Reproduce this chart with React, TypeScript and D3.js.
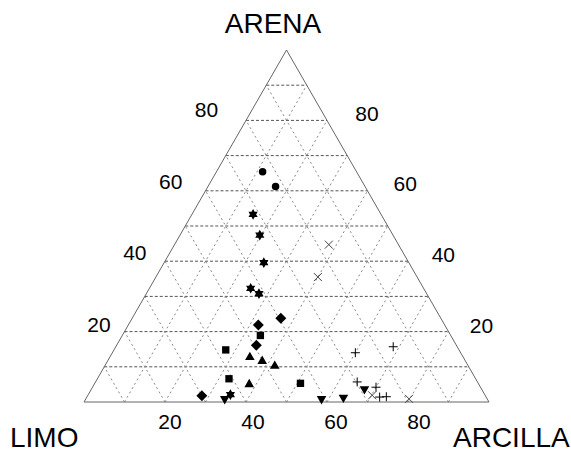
import React from 'react';
import * as d3 from 'd3';

// composition: [ARENA, LIMO, ARCILLA] in %
const circles = [[65.4, 23.2, 11.4], [61.2, 22.1, 16.7]];
const stars = [
  [53.3, 31.6, 15.1], [47.4, 32.9, 19.7], [39.6, 35.8, 24.6],
  [32.3, 42.7, 25.0], [30.8, 41.4, 27.8], [2.1, 62.8, 35.1],
];
const diamonds = [[23.8, 39.5, 36.7], [21.9, 46.0, 32.1], [16.1, 49.4, 34.5], [1.8, 70.0, 28.2]];
const squares = [[18.9, 47.0, 34.1], [14.8, 57.6, 27.6], [6.6, 60.9, 32.5], [5.3, 43.9, 50.8]];
const triUp = [[12.7, 52.7, 34.6], [11.6, 50.2, 38.2], [10.2, 47.8, 42.0], [5.0, 56.7, 38.3]];
const triDown = [[0.9, 64.8, 34.3], [0.9, 40.9, 58.2], [1.3, 35.3, 63.4], [3.7, 28.9, 67.4]];
const pluses = [
  [14.0, 26.0, 60.0], [15.7, 15.8, 68.5], [5.7, 29.7, 64.6],
  [4.2, 25.8, 70.0], [1.4, 26.3, 72.3], [1.5, 24.6, 73.9],
];
const crosses = [[44.7, 17.2, 38.1], [35.5, 24.5, 40.0], [1.9, 27.9, 70.2], [0.9, 19.3, 79.8]];

const tickValues = [20, 40, 60, 80];
const gridValues = d3.range(10, 100, 10);

const W = 571;
const H = 455;

const xScale = d3.scaleLinear().domain([0, 100]).range([84, 489]);
const yScale = d3.scaleLinear().domain([0, 100]).range([402, 50]);

// ARENA = a, ARCILLA = c
const proj = (a: number, c: number): [number, number] => [xScale(c + a / 2), yScale(a)];

// label placement scales (tick text sits a little off the edges)
const leftLabX = d3.scaleLinear().domain([20, 80]).range([99, 206.5]);
const leftLabY = d3.scaleLinear().domain([20, 80]).range([324, 109.5]);
const rightLabX = d3.scaleLinear().domain([20, 80]).range([481.5, 367]);
const rightLabY = d3.scaleLinear().domain([20, 80]).range([325, 113]);
const bottomLabX = d3.scaleLinear().domain([20, 80]).range([170, 419]);

const hexagram = {
  draw(ctx: any, size: number) {
    const r = Math.sqrt(size) * 0.75;
    for (const rot of [0, Math.PI]) {
      for (let k = 0; k < 3; k++) {
        const ang = rot - Math.PI / 2 + (k * 2 * Math.PI) / 3;
        const px = r * Math.cos(ang);
        const py = r * Math.sin(ang);
        if (k === 0) ctx.moveTo(px, py);
        else ctx.lineTo(px, py);
      }
      ctx.closePath();
    }
  },
};

const sym = (type: any, size: number) => d3.symbol().type(type).size(size)() as string;

const App = () => {
  const outline = d3.line()([proj(0, 0), proj(100, 0), proj(0, 100), proj(0, 0)]);

  const grid: [number, number][][] = [];
  gridValues.forEach((v) => {
    grid.push([proj(v, 0), proj(v, 100 - v)]); // const ARENA
    grid.push([proj(0, v), proj(100 - v, v)]); // const ARCILLA
    grid.push([proj(0, 100 - v), proj(100 - v, 0)]); // const LIMO
  });

  const filled = (data: number[][], path: string, rot = 0) =>
    data.map((d, i) => {
      const [x, y] = proj(d[0], d[2]);
      return (
        <path key={i} d={path} transform={`translate(${x},${y}) rotate(${rot})`} fill="#000" />
      );
    });

  const plusPath = 'M-4.5,0L4.5,0M0,-4.5L0,4.5';
  const xPath = 'M-4,-4L4,4M-4,4L4,-4';

  const font = 'Liberation Sans, Arial, sans-serif';

  return (
    <svg width={W} height={H} style={{ position: 'absolute', left: 0, top: 0, background: '#fff' }}>
      <g>
        {grid.map((seg, i) => (
          <path
            key={i}
            d={d3.line()(seg) as string}
            stroke={i % 3 === 0 ? '#555' : '#888'}
            strokeWidth={1}
            strokeDasharray={i % 3 === 0 ? '3,2' : '2,3'}
            fill="none"
          />
        ))}
        <path d={outline as string} stroke="#666" strokeWidth={1} fill="none" />
      </g>

      <g fontFamily={font} fontSize={21} fill="#000" textAnchor="middle">
        {tickValues.map((v) => (
          <text key={'l' + v} x={leftLabX(v)} y={leftLabY(v) + 7.5}>{v}</text>
        ))}
        {tickValues.map((v) => (
          <text key={'r' + v} x={rightLabX(v)} y={rightLabY(v) + 7.5}>{v}</text>
        ))}
        {tickValues.map((v) => (
          <text key={'b' + v} x={bottomLabX(v)} y={428.5}>{v}</text>
        ))}
      </g>

      <g fontFamily={font} fontSize={28} fill="#000">
        <text x={273} y={33} textAnchor="middle">ARENA</text>
        <text x={10} y={447}>LIMO</text>
        <text x={453} y={447}>ARCILLA</text>
      </g>

      <g>
        {filled(circles, sym(d3.symbolCircle, 44))}
        {filled(stars, sym(hexagram, 50))}
        {filled(diamonds, sym(d3.symbolSquare, 60), 45)}
        {filled(squares, sym(d3.symbolSquare, 54))}
        {filled(triUp, sym(d3.symbolTriangle, 40))}
        {filled(triDown, sym(d3.symbolTriangle, 40), 180)}
        {pluses.map((d, i) => {
          const [x, y] = proj(d[0], d[2]);
          return <path key={'p' + i} d={plusPath} transform={`translate(${x},${y})`} stroke="#000" strokeWidth={1} fill="none" />;
        })}
        {crosses.map((d, i) => {
          const [x, y] = proj(d[0], d[2]);
          return <path key={'x' + i} d={xPath} transform={`translate(${x},${y})`} stroke="#444" strokeWidth={1} fill="none" />;
        })}
      </g>
    </svg>
  );
};

export default App;
